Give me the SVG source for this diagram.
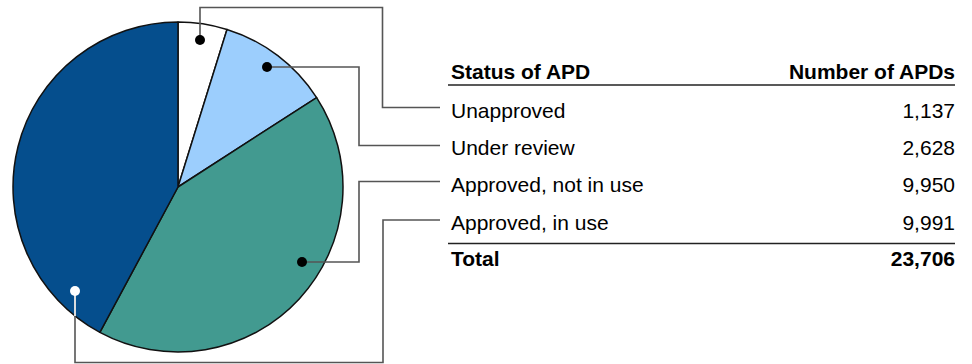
<svg xmlns="http://www.w3.org/2000/svg" width="972" height="364" viewBox="0 0 972 364">
<style>
.slice{stroke:#111;stroke-width:1.5;stroke-linejoin:round}
.con{fill:none;stroke:#555;stroke-width:1.6}
.dot{fill:#000}
.t{font-family:"Liberation Sans",Arial,sans-serif;font-size:21px;fill:#000}
.b{font-weight:bold}
.r{text-anchor:end}
.rule{stroke:#222;stroke-width:1.5}
</style>
<rect width="972" height="364" fill="#fff"/>
<g id="pie">
<g id="slice-unapproved"><path class="slice" fill="#ffffff" d="M178,187 L178,22 A165,165 0 0 1 226.99,29.44 Z"/></g>
<g id="slice-under-review"><path class="slice" fill="#9ccefd" d="M178,187 L226.99,29.44 A165,165 0 0 1 316.65,97.55 Z"/></g>
<g id="slice-approved-not-in-use"><path class="slice" fill="#429a90" d="M178,187 L316.65,97.55 A165,165 0 0 1 99.86,332.32 Z"/></g>
<g id="slice-approved-in-use"><path class="slice" fill="#054e8d" d="M178,187 L99.86,332.32 A165,165 0 0 1 178,22 Z"/></g>
</g>
<g id="connectors">
<polyline class="con" points="200,40 200,7.5 382.5,7.5 382.5,107.5 440,107.5"/>
<polyline class="con" points="267,67 359,67 359,145.5 440,145.5"/>
<polyline class="con" points="302,262 359,262 359,181.5 440,181.5"/>
<polyline class="con" points="75,291 75,362.5 383,362.5 383,220 440,220"/>
<line x1="75" y1="291" x2="75" y2="316" stroke="#fff" stroke-width="1.6"/>
<circle class="dot" cx="200" cy="40" r="5"/>
<circle class="dot" cx="267" cy="67" r="5"/>
<circle class="dot" cx="302" cy="262" r="5"/>
<circle cx="75" cy="291" r="5" fill="#fff"/>
</g>
<g id="table">
<g id="header">
<text class="t b" x="451" y="79">Status of APD</text>
<text class="t b r" x="955" y="79">Number of APDs</text>
<line class="rule" x1="448" y1="85" x2="955" y2="85"/>
</g>
<g id="row-unapproved">
<text class="t" x="451" y="117.5">Unapproved</text>
<text class="t r" x="955" y="117.5">1,137</text>
</g>
<g id="row-under-review">
<text class="t" x="451" y="155">Under review</text>
<text class="t r" x="955" y="155">2,628</text>
</g>
<g id="row-approved-not-in-use">
<text class="t" x="451" y="192">Approved, not in use</text>
<text class="t r" x="955" y="192">9,950</text>
</g>
<g id="row-approved-in-use">
<text class="t" x="451" y="229.5">Approved, in use</text>
<text class="t r" x="955" y="229.5">9,991</text>
</g>
<g id="row-total">
<line class="rule" x1="448" y1="243.5" x2="955" y2="243.5"/>
<text class="t b" x="451" y="265.5">Total</text>
<text class="t b r" x="955" y="265.5">23,706</text>
</g>
</g>
</svg>
